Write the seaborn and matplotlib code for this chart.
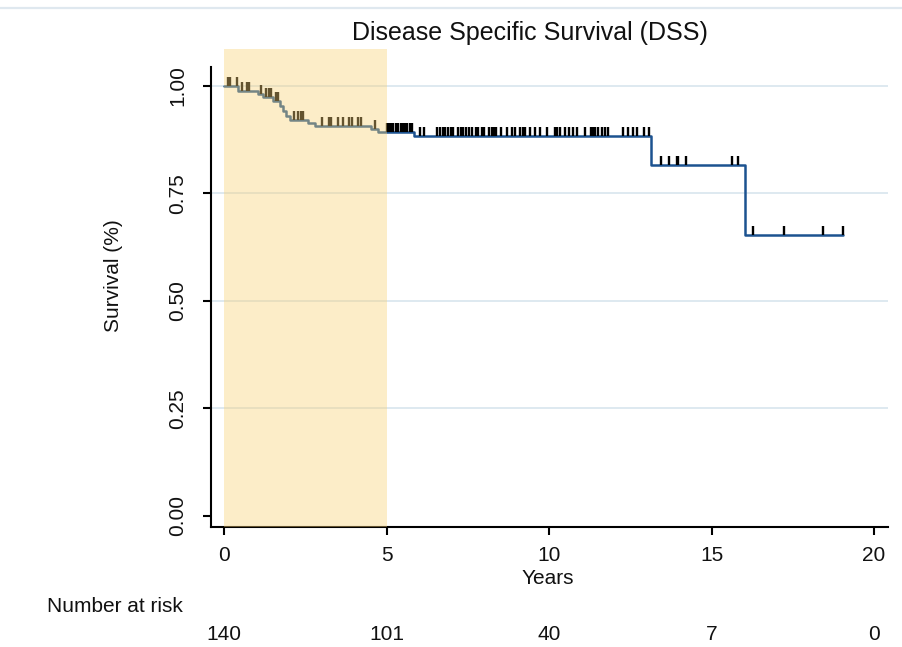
import numpy as np
import pandas as pd
import seaborn as sns
import matplotlib
matplotlib.use("Agg")
import matplotlib.pyplot as plt
import matplotlib.transforms as mtransforms
from matplotlib.path import Path
from matplotlib.lines import Line2D
from matplotlib import font_manager

# ---------------- data ----------------
event_times = [0.0, 0.44, 1.06, 1.21, 1.52, 1.72, 1.82, 1.92, 2.03, 2.59, 2.80,
               4.51, 4.75, 5.85, 13.13, 16.03]
survival = [1.0, 0.989, 0.981, 0.974, 0.964, 0.953, 0.942, 0.931, 0.920, 0.914,
            0.907, 0.901, 0.894, 0.884, 0.816, 0.653]
last_followup = 19.06

censor_times = [0.11, 0.18, 0.39, 0.56, 0.70, 0.78, 1.13, 1.29, 1.37, 1.44, 1.59,
                1.65, 2.16, 2.29, 2.37, 2.44, 3.00, 3.24, 3.28, 3.52, 3.65, 3.86,
                3.93, 4.13, 4.20, 4.65, 5.02, 5.07, 5.13, 5.19, 5.29, 5.35, 5.45,
                5.50, 5.56, 5.64, 5.71, 5.78, 6.03, 6.15, 6.56, 6.65, 6.73, 6.80,
                6.90, 6.98, 7.06, 7.21, 7.28, 7.36, 7.45, 7.55, 7.62, 7.75, 7.83,
                7.93, 8.00, 8.16, 8.24, 8.31, 8.37, 8.52, 8.70, 8.85, 8.95, 9.11,
                9.19, 9.26, 9.42, 9.57, 9.72, 9.93, 10.18, 10.26, 10.34, 10.49,
                10.62, 10.75, 10.87, 11.11, 11.28, 11.34, 11.42, 11.52, 11.62,
                11.72, 11.80, 12.29, 12.44, 12.58, 12.70, 12.92, 13.09, 13.44,
                13.70, 13.93, 13.96, 14.20, 15.62, 15.83, 16.29, 17.24, 18.42,
                19.06]

xticks = [0, 5, 10, 15, 20]
yticks = [0.0, 0.25, 0.50, 0.75, 1.00]
ytick_labels = ["0.00", "0.25", "0.50", "0.75", "1.00"]
risk_times = [0, 5, 10, 15, 20]
number_at_risk = [140, 101, 40, 7, 0]
shade_range = (0, 5)

title = "Disease Specific Survival (DSS)"
xlabel = "Years"
ylabel = "Survival (%)"
risk_label = "Number at risk"

# ---------------- style ----------------
sns.set_theme(style="white")
plt.rcParams["font.family"] = ["Liberation Sans", "DejaVu Sans"]

installed = {f.name for f in font_manager.fontManager.ttflist}
if "Liberation Sans Narrow" in installed:
    small_family = ["Liberation Sans Narrow", "DejaVu Sans"]
    small_size = 16.5
else:
    small_family = ["Liberation Sans", "DejaVu Sans"]
    small_size = 15

W, H = 903, 647
fig = plt.figure(figsize=(W / 100, H / 100), dpi=100)
ax = fig.add_axes([211 / W, 1 - 527 / H, 677 / W, 478 / H])

line_color = "#1c5290"

curve = pd.DataFrame({"t": event_times + [last_followup],
                      "s": survival + [survival[-1]]})
sns.lineplot(data=curve, x="t", y="s", drawstyle="steps-post", estimator=None,
             sort=False, color=line_color, lw=1.8, ax=ax, zorder=3)

# censor marks: survival value at each censor time
idx = np.searchsorted(np.array(event_times), np.array(censor_times), side="right") - 1
cens = pd.DataFrame({"t": censor_times, "s": np.array(survival)[idx]})
tick_marker = Path([(0, 0), (0, 1)], [Path.MOVETO, Path.LINETO])
sns.scatterplot(data=cens, x="t", y="s", marker=tick_marker, s=150,
                color="black", edgecolor="black", linewidth=1.7, ax=ax,
                zorder=4, legend=False)

# shaded first five years (drawn on top, translucent)
ax.axvspan(shade_range[0], shade_range[1], color="#F8D276", alpha=0.4, lw=0,
           zorder=5)

# gridlines
for yv in yticks[1:]:
    ax.axhline(yv, color="#dbe7ef", lw=1.3, zorder=0)

ax.set_xlim(-0.4, 20.43)
ax.set_ylim(-0.0256, 1.086)
ax.set_xticks(xticks)
ax.set_xticklabels([str(v) for v in xticks], family=small_family)
ax.set_yticks(yticks)
ax.set_yticklabels(ytick_labels, rotation=90, va="center", family=small_family)
ax.set_xlabel("")
ax.set_ylabel("")

for side in ["top", "right"]:
    ax.spines[side].set_visible(False)
for side in ["left", "bottom"]:
    ax.spines[side].set_color("black")
    ax.spines[side].set_linewidth(1.5)
ax.spines["left"].set_bounds(-0.0256, 1.044)

ax.tick_params(axis="both", which="major", direction="out", length=6,
               width=1.5, color="black", labelsize=small_size,
               labelcolor="#111111")
ax.tick_params(axis="x", pad=8, bottom=True)
ax.tick_params(axis="y", pad=11, left=True)

# texts
fig.text(530 / W, 1 - 33 / H, title, ha="center", va="center", fontsize=18,
         color="#111111")
fig.text(548 / W, 1 - 578 / H, xlabel, ha="center", va="center",
         fontsize=small_size, family=small_family, color="#111111")
fig.text(114 / W, 1 - 276 / H, ylabel, ha="center", va="center",
         fontsize=small_size, family=small_family, rotation=90,
         color="#111111")
fig.text(115 / W, 1 - 607 / H, risk_label, ha="center", va="center",
         fontsize=small_size, family=small_family, color="#111111")
blend = mtransforms.blended_transform_factory(ax.transData, fig.transFigure)
for t, n in zip(risk_times, number_at_risk):
    fig.text(t, 1 - 634 / H, str(n), transform=blend, ha="center", va="center",
             fontsize=small_size, family=small_family, color="#111111")

# faint frame line at the top of the graph region
fig.add_artist(Line2D([0, 1], [1 - 8 / H, 1 - 8 / H], transform=fig.transFigure,
                      color="#dfe8ef", lw=1.6))

fig.savefig("out.png", dpi=100)
